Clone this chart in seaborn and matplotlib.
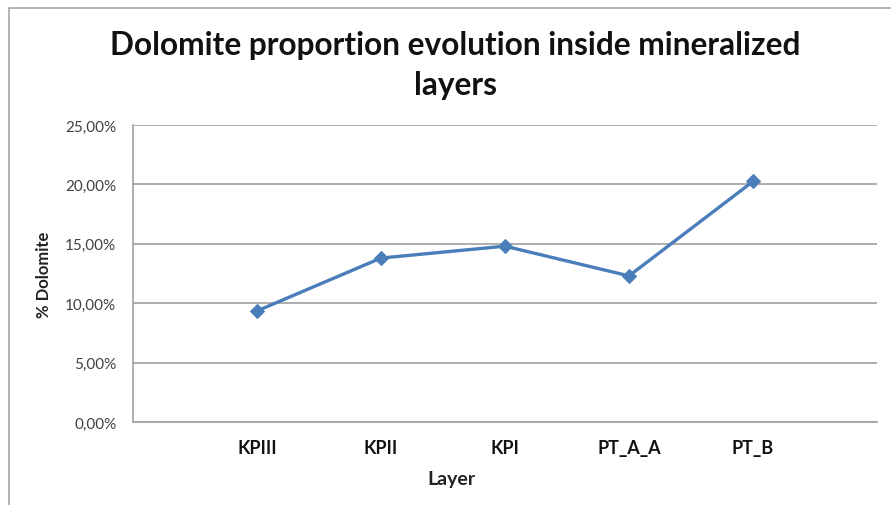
import matplotlib
matplotlib.use("Agg")
import matplotlib.pyplot as plt
import seaborn as sns
import pandas as pd
from matplotlib.ticker import FuncFormatter, MultipleLocator
from matplotlib.patches import Rectangle

# Data
layers = ["KPIII", "KPII", "KPI", "PT_A_A", "PT_B"]
dolomite_pct = [9.35, 13.8, 14.8, 12.3, 20.25]

df = pd.DataFrame({"Layer": layers, "Dolomite": dolomite_pct})
df["pos"] = range(len(layers))

sns.set_style("white")
plt.rcParams["font.family"] = ["Lato", "DejaVu Sans"]

W, H = 891, 506
fig = plt.figure(figsize=(W / 100, H / 100), dpi=100)

# chart area border (Excel-like)
fig.patches.append(Rectangle((9 / W, -0.05), 1.1, (H - 9) / H + 0.05,
                             transform=fig.transFigure, fill=False,
                             edgecolor="#a6a6a6", linewidth=1.2))

ax = fig.add_axes([133 / W, (H - 423) / H, (877 - 133) / W, (423 - 126) / H])

sns.lineplot(data=df, x="pos", y="Dolomite", ax=ax, color="#4a7ebb",
             marker="D", markersize=7, markeredgecolor="#4a7ebb",
             linewidth=2.4)

ax.set_xlim(-1, 5)
ax.set_ylim(0, 25)
ax.yaxis.set_major_locator(MultipleLocator(5))
ax.yaxis.set_major_formatter(FuncFormatter(lambda v, p: f"{v:.2f}%".replace(".", ",")))
ax.grid(axis="y", color="#a0a0a0", linewidth=1.2)
ax.set_axisbelow(True)

ax.set_xticks(df["pos"])
ax.set_xticklabels(layers, fontweight="bold", fontsize=13, color="#111111")
ax.tick_params(axis="x", length=0, pad=12)
ax.tick_params(axis="y", length=0, pad=12, labelsize=11, labelcolor="#404040")

for side in ["top", "right"]:
    ax.spines[side].set_visible(False)
for side in ["left", "bottom"]:
    ax.spines[side].set_color("#a0a0a0")
    ax.spines[side].set_linewidth(1.2)

ax.set_xlabel("Layer", fontweight="bold", fontsize=14, color="#222222")
ax.xaxis.label.set_va("center")
ax.xaxis.set_label_coords((451 - 133) / 744, -57 / 297)
ax.set_ylabel("% Dolomite", fontweight="bold", fontsize=12, color="#222222")
ax.yaxis.label.set_va("center")
ax.yaxis.set_label_coords((44 - 133) / 744, 0.5)

fig.text(455 / W, 1 - 45 / H, "Dolomite proportion evolution inside mineralized",
         ha="center", va="center", fontsize=22.8, fontweight="bold", color="#111111")
fig.text(455 / W, 1 - 86 / H, "layers",
         ha="center", va="center", fontsize=22.8, fontweight="bold", color="#111111")

fig.savefig("out.png", dpi=100)
